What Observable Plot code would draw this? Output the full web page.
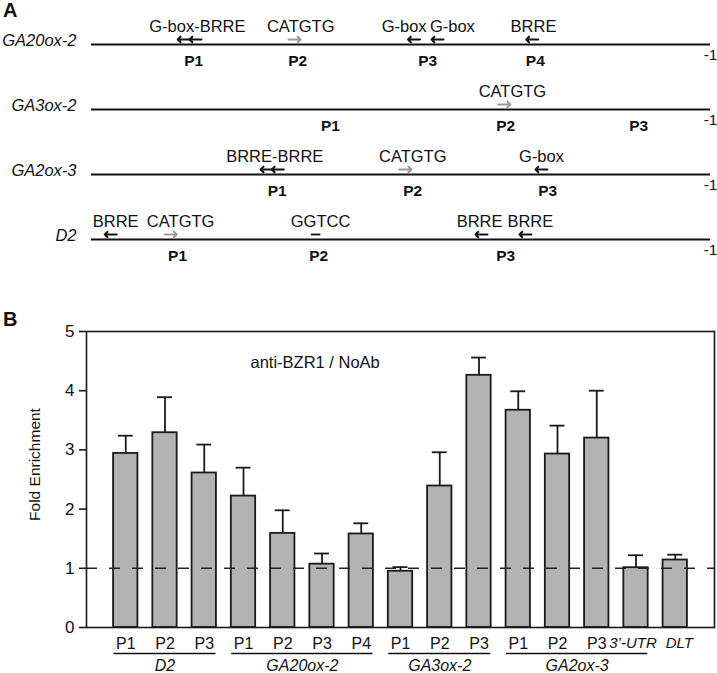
<!DOCTYPE html>
<html>
<head>
<meta charset="utf-8">
<script src="https://cdn.jsdelivr.net/npm/d3@7"></script>
<script src="https://cdn.jsdelivr.net/npm/@observablehq/plot@0.6"></script>
<style>
  body { margin: 0; background: #fff; font-family: "Liberation Sans", Arial, sans-serif; color: #111; }
  #wrap { position: relative; width: 717px; height: 673px; overflow: hidden; }
  .panel { position: absolute; left: 3px; font-weight: bold; font-size: 20px; line-height: 20px; }
  svg { display: block; }
</style>
</head>
<body>
<div id="wrap">
  <div id="a"></div>
  <div id="b"></div>
  <div class="panel" style="top:0px">A</div>
  <div class="panel" style="top:309px">B</div>
</div>
<script>
// ---------------- Panel A data (positions along promoter: 0 = left end, 100 = -1) ----------------
const genesA = ["GA20ox-2", "GA3ox-2", "GA2ox-3", "D2"];
const endLabel = "-1";

const siteLabels = [
  {gene: "GA20ox-2", pos: 17.1, label: "G-box-BRRE"},
  {gene: "GA20ox-2", pos: 33.8, label: "CATGTG"},
  {gene: "GA20ox-2", pos: 50.5, label: "G-box"},
  {gene: "GA20ox-2", pos: 58.3, label: "G-box"},
  {gene: "GA20ox-2", pos: 71.4, label: "BRRE"},
  {gene: "GA3ox-2",  pos: 68.0, label: "CATGTG"},
  {gene: "GA2ox-3",  pos: 29.6, label: "BRRE-BRRE"},
  {gene: "GA2ox-3",  pos: 51.9, label: "CATGTG"},
  {gene: "GA2ox-3",  pos: 72.7, label: "G-box"},
  {gene: "D2",       pos: 3.9,  label: "BRRE"},
  {gene: "D2",       pos: 14.4, label: "CATGTG"},
  {gene: "D2",       pos: 37.0, label: "GGTCC"},
  {gene: "D2",       pos: 62.7, label: "BRRE"},
  {gene: "D2",       pos: 70.9, label: "BRRE"}
];

// dir: -1 = reverse (left arrow), 1 = forward (right arrow), 0 = no orientation (short bar)
const sites = [
  {gene: "GA20ox-2", pos: 14.9, dir: -1, motif: "G-box"},
  {gene: "GA20ox-2", pos: 16.8, dir: -1, motif: "BRRE"},
  {gene: "GA20ox-2", pos: 32.8, dir: 1,  motif: "CATGTG"},
  {gene: "GA20ox-2", pos: 52.1, dir: -1, motif: "G-box"},
  {gene: "GA20ox-2", pos: 55.9, dir: -1, motif: "G-box"},
  {gene: "GA20ox-2", pos: 71.2, dir: -1, motif: "BRRE"},
  {gene: "GA3ox-2",  pos: 66.7, dir: 1,  motif: "CATGTG"},
  {gene: "GA2ox-3",  pos: 28.3, dir: -1, motif: "BRRE"},
  {gene: "GA2ox-3",  pos: 30.1, dir: -1, motif: "BRRE"},
  {gene: "GA2ox-3",  pos: 50.7, dir: 1,  motif: "CATGTG"},
  {gene: "GA2ox-3",  pos: 72.7, dir: -1, motif: "G-box"},
  {gene: "D2",       pos: 3.1,  dir: -1, motif: "BRRE"},
  {gene: "D2",       pos: 12.8, dir: 1,  motif: "CATGTG"},
  {gene: "D2",       pos: 36.2, dir: 0,  motif: "GGTCC"},
  {gene: "D2",       pos: 63.0, dir: -1, motif: "BRRE"},
  {gene: "D2",       pos: 70.1, dir: -1, motif: "BRRE"}
];

const primers = [
  {gene: "GA20ox-2", pos: 16.5, label: "P1"},
  {gene: "GA20ox-2", pos: 33.3, label: "P2"},
  {gene: "GA20ox-2", pos: 54.3, label: "P3"},
  {gene: "GA20ox-2", pos: 71.7, label: "P4"},
  {gene: "GA3ox-2",  pos: 38.6, label: "P1"},
  {gene: "GA3ox-2",  pos: 66.9, label: "P2"},
  {gene: "GA3ox-2",  pos: 88.4, label: "P3"},
  {gene: "GA2ox-3",  pos: 30.0, label: "P1"},
  {gene: "GA2ox-3",  pos: 51.9, label: "P2"},
  {gene: "GA2ox-3",  pos: 73.7, label: "P3"},
  {gene: "D2",       pos: 13.9, label: "P1"},
  {gene: "D2",       pos: 36.7, label: "P2"},
  {gene: "D2",       pos: 66.9, label: "P3"}
];

// ---------------- Panel B data ----------------
const tickLabels = ["P1","P2","P3","P1","P2","P3","P4","P1","P2","P3","P1","P2","P3","3\u2019-UTR","DLT"];
const barGenes   = ["D2","D2","D2","GA20ox-2","GA20ox-2","GA20ox-2","GA20ox-2","GA3ox-2","GA3ox-2","GA3ox-2","GA2ox-3","GA2ox-3","GA2ox-3","GA2ox-3",""];
const enrichment = [2.94, 3.29, 2.61, 2.22, 1.59, 1.07, 1.58, 0.95, 2.39, 4.26, 3.67, 2.93, 3.20, 1.01, 1.14];
const errorTop   = [3.24, 3.89, 3.09, 2.70, 1.98, 1.25, 1.76, 1.02, 2.96, 4.56, 3.99, 3.41, 4.00, 1.22, 1.23];
const yTicks = [0, 1, 2, 3, 4, 5];
const baseline = [1];
const annotation = "anti-BZR1 / NoAb";
const yLabel = "Fold Enrichment";

// ---------------- styles ----------------
const FONT = "'Liberation Sans', Arial, sans-serif";
const INK = "#111";
const GRAY_ARROW = "#9a9a9a";
const BAR_FILL = "#b3b3b3";
const ARROW_HALF = 0.97;   // half arrow length in promoter units (~12px)
const BAR_HALF = 0.31;     // half bar width in slot units
const CAP_HALF = 0.19;     // half error-cap width in slot units

// ---------------- Panel A ----------------
const oriented = sites.filter(d => d.dir !== 0);
const chartA = Plot.plot({
  width: 717, height: 270,
  marginLeft: 91, marginRight: 7, marginTop: 43, marginBottom: 31,
  x: {domain: [0, 100], axis: null},
  y: {type: "point", domain: genesA, padding: 0, axis: null},
  style: {fontFamily: FONT, fontSize: "16px", color: INK, background: "transparent", overflow: "visible"},
  marks: [
    Plot.ruleY(genesA, {y: d => d, x1: 0, x2: 100, stroke: INK, strokeWidth: 2}),
    Plot.text(genesA, {x: 0, y: d => d, text: d => d, textAnchor: "end", dx: -15, dy: -4,
      fontStyle: "italic", fontSize: 16.5, fill: INK}),
    Plot.text(genesA, {x: 100, y: d => d, text: () => endLabel, textAnchor: "end", dx: 7, dy: 11,
      fontSize: 15.5, fill: INK}),
    Plot.text(siteLabels, {x: "pos", y: "gene", text: "label", dy: -18, fontSize: 16.5, fill: INK}),
    Plot.arrow(oriented.filter(d => d.motif !== "CATGTG"), {
      x1: d => d.pos - d.dir * ARROW_HALF, x2: d => d.pos + d.dir * ARROW_HALF,
      y1: "gene", y2: "gene", dy: -5, stroke: INK, strokeWidth: 2, headLength: 6, headAngle: 90}),
    Plot.arrow(oriented.filter(d => d.motif === "CATGTG"), {
      x1: d => d.pos - d.dir * ARROW_HALF, x2: d => d.pos + d.dir * ARROW_HALF,
      y1: "gene", y2: "gene", dy: -5, stroke: GRAY_ARROW, strokeWidth: 2, headLength: 6, headAngle: 90}),
    Plot.link(sites.filter(d => d.dir === 0), {
      x1: d => d.pos - ARROW_HALF * 0.8, x2: d => d.pos + ARROW_HALF * 0.8,
      y1: "gene", y2: "gene", dy: -5, stroke: INK, strokeWidth: 1.8}),
    Plot.text(primers, {x: "pos", y: "gene", text: "label", dy: 17, fontWeight: "bold", fontSize: 15.5, fill: INK})
  ]
});
document.getElementById("a").appendChild(chartA);

// ---------------- Panel B ----------------
const rows = tickLabels.map((label, i) => ({i, label, gene: barGenes[i], v: enrichment[i], top: errorTop[i]}));
const groups = d3.groups(rows.filter(r => r.gene), r => r.gene)
  .map(([gene, rs]) => ({gene, first: rs[0].i, last: rs[rs.length - 1].i}));
const primerRows = rows.filter(r => /^P/.test(r.label));
const controlRows = rows.filter(r => !/^P/.test(r.label));

const chartB = Plot.plot({
  width: 717, height: 403,
  marginLeft: 86, marginRight: 3, marginTop: 61, marginBottom: 46,
  x: {domain: [-1, tickLabels.length], axis: null},
  y: {domain: [0, 5], axis: null},
  style: {fontFamily: FONT, fontSize: "15px", color: INK, background: "transparent", overflow: "visible"},
  marks: [
    Plot.rectY(rows, {x1: d => d.i - BAR_HALF, x2: d => d.i + BAR_HALF, y: "v",
      fill: BAR_FILL, stroke: "#1a1a1a", strokeWidth: 1.8}),
    Plot.ruleX(rows, {x: "i", y1: "v", y2: "top", stroke: "#1a1a1a", strokeWidth: 1.8}),
    Plot.ruleY(rows, {y: "top", x1: d => d.i - CAP_HALF, x2: d => d.i + CAP_HALF, stroke: "#1a1a1a", strokeWidth: 1.8}),
    Plot.ruleY(baseline, {y: d => d, stroke: "#222", strokeWidth: 1.5, strokeDasharray: "11,12"}),
    Plot.frame({stroke: "#1a1a1a", strokeWidth: 1.6}),
    Plot.axisY(yTicks, {tickSize: 7, tickPadding: 5, tickFormat: d3.format("d"), fontSize: 17,
      stroke: "#1a1a1a", strokeWidth: 1.6, label: null}),
    Plot.text([yLabel], {frameAnchor: "left", text: d => d, rotate: -90, textAnchor: "middle", lineAnchor: "middle",
      dx: -51, dy: -15, fontSize: 15.5, fill: INK}),
    Plot.text([annotation], {frameAnchor: "top-left", text: d => d, textAnchor: "start", lineAnchor: "middle",
      dx: 164, dy: 31, fontSize: 16.5, fill: INK}),
    Plot.text(primerRows, {x: "i", frameAnchor: "bottom", text: "label",
      lineAnchor: "middle", dy: 16, fontSize: 16, fill: INK}),
    Plot.text(controlRows.slice(0, 1), {x: "i", frameAnchor: "bottom", text: "label",
      lineAnchor: "middle", dx: -3, dy: 16, fontSize: 15, fontStyle: "italic", fill: INK}),
    Plot.text(controlRows.slice(1), {x: "i", frameAnchor: "bottom", text: "label",
      lineAnchor: "middle", dx: 4, dy: 16, fontSize: 15, fontStyle: "italic", fill: INK}),
    Plot.ruleY(groups, {y: 0, x1: d => d.first - 0.3, x2: d => d.last + 0.3, dy: 26, stroke: INK, strokeWidth: 1.5}),
    Plot.text(groups, {x: d => (d.first + d.last) / 2, y: 0, text: "gene", dy: 38, lineAnchor: "middle",
      fontSize: 16, fontStyle: "italic", fill: INK})
  ]
});
document.getElementById("b").appendChild(chartB);
</script>
</body>
</html>
